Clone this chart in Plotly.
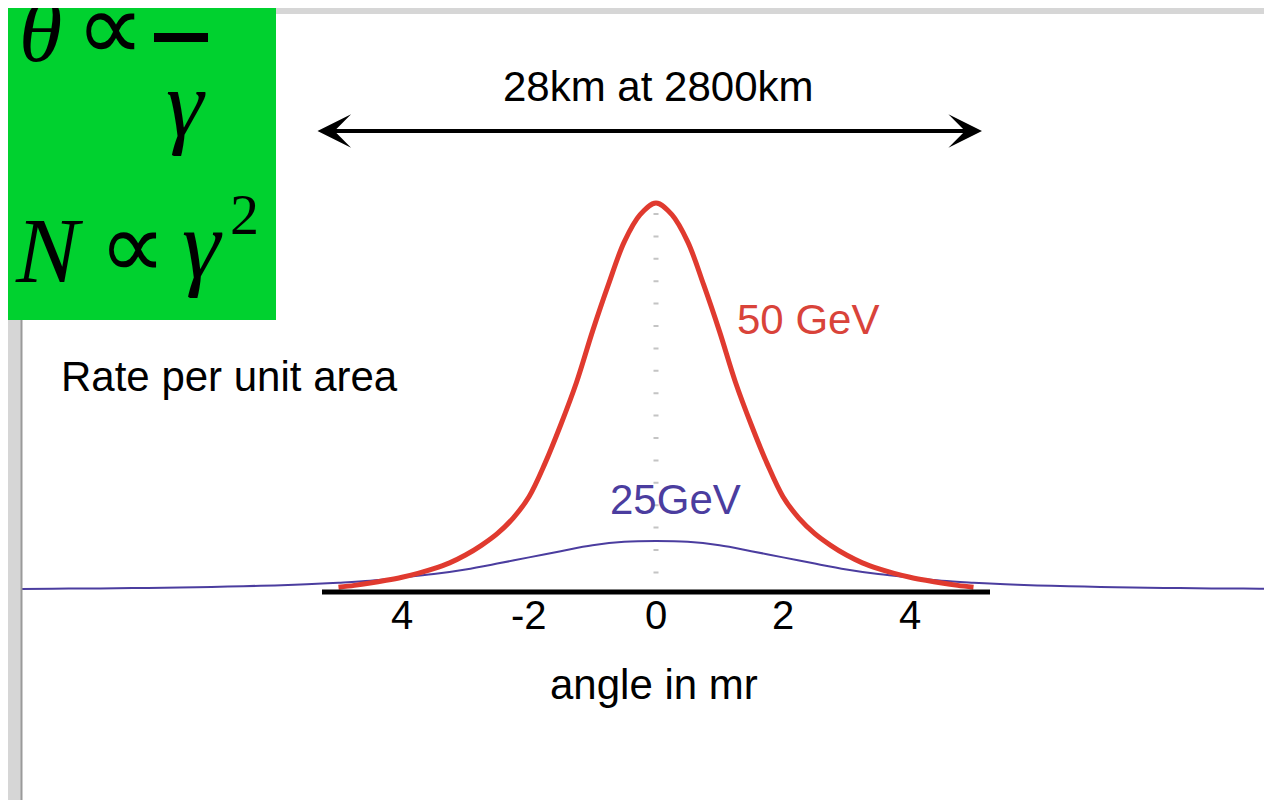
import plotly.graph_objects as go

# ---------------- data ----------------
red_angle = [-5.0, -4.75, -4.5, -4.25, -4.0, -3.75, -3.5, -3.25, -3.0, -2.75, -2.5, -2.25, -2.0,
             -1.75, -1.5, -1.25, -1.0, -0.75, -0.5, -0.25, 0.0, 0.25, 0.5, 0.75, 1.0, 1.25, 1.5,
             1.75, 2.0, 2.25, 2.5, 2.75, 3.0, 3.25, 3.5, 3.75, 4.0, 4.25, 4.5, 4.75, 5.0]
red_rate = [1.2, 1.7, 2.3, 3.0, 3.8, 4.8, 6.0, 7.5, 9.5, 12.0, 15.0, 19.0, 24.5,
            33.0, 43.0, 54.0, 67.0, 79.0, 90.0, 97.0, 100.0, 97.0, 90.0, 79.0, 67.0, 54.0, 43.0,
            33.0, 24.5, 19.0, 15.0, 12.0, 9.5, 7.5, 6.0, 4.8, 3.8, 3.0, 2.3, 1.7, 1.2]

blue_angle = [-10.0, -9.5, -9.0, -8.5, -8.0, -7.5, -7.0, -6.5, -6.0, -5.5, -5.0, -4.5, -4.0, -3.5,
              -3.0, -2.5, -2.0, -1.5, -1.0, -0.5, 0.0, 0.5, 1.0, 1.5, 2.0, 2.5, 3.0, 3.5, 4.0,
              4.5, 5.0, 5.5, 6.0, 6.5, 7.0, 7.5, 8.0, 8.5, 9.0, 9.5, 10.0]
blue_rate = [0.8, 0.85, 0.9, 0.95, 1.05, 1.15, 1.3, 1.5, 1.7, 2.0, 2.4, 2.9, 3.7, 4.6,
             5.8, 7.3, 8.9, 10.5, 12.0, 12.9, 13.1, 12.9, 12.0, 10.5, 8.9, 7.3, 5.8, 4.6, 3.7,
             2.9, 2.4, 2.0, 1.7, 1.5, 1.3, 1.15, 1.05, 0.95, 0.9, 0.85, 0.8]

tick_vals = [-4, -2, 0, 2, 4]
tick_text = ["4", "-2", "0", "2", "4"]

series_labels = ["50 GeV", "25GeV"]
axis_title = "angle in mr"
y_title = "Rate per unit area"
span_text = "28km at 2800km"

# ---------------- geometry helpers (page pixel -> coords) ----------------
OFF = 8                      # page body margin
W, H = 1272 - OFF, 800 - OFF
X0, XS = 656.0, 63.5
Y0, YS = 592.0, 3.89


def xd(px):
    return (px - X0) / XS


def yd(py):
    return (Y0 - py) / YS


def xp(px):
    return (px - OFF) / W


def yp(py):
    return 1 - (py - OFF) / H


RED = "#e03a2f"
RED_TXT = "#d9433a"
BLUE = "#4b3d9f"
SANS = "Liberation Sans, Arial, sans-serif"
SERIF = "Liberation Serif, Times New Roman, serif"

fig = go.Figure()

fig.add_trace(go.Scatter(x=blue_angle, y=blue_rate, mode="lines",
                         line=dict(color=BLUE, width=2, shape="spline"),
                         hoverinfo="skip", showlegend=False))
fig.add_trace(go.Scatter(x=red_angle, y=red_rate, mode="lines",
                         line=dict(color=RED, width=5, shape="spline"),
                         hoverinfo="skip", showlegend=False))

shapes = []
# dotted centre guide
shapes.append(dict(type="line", xref="x", yref="y", x0=0, x1=0, y0=yd(213), y1=yd(574),
                   line=dict(color="#c4c4c4", width=5, dash="2px,20.4px"), layer="below"))
# axis line
shapes.append(dict(type="line", xref="x", yref="y", x0=xd(322), x1=xd(990), y0=0, y1=0,
                   line=dict(color="black", width=5)))
# window borders
shapes.append(dict(type="rect", xref="paper", yref="paper", x0=0, x1=1, y0=yp(14), y1=1,
                   fillcolor="#d6d6d6", line=dict(width=0), layer="above"))
shapes.append(dict(type="rect", xref="paper", yref="paper", x0=0, x1=xp(21), y0=0, y1=1,
                   fillcolor="#d6d6d6", line=dict(width=0), layer="above"))
shapes.append(dict(type="line", xref="paper", yref="paper", x0=xp(21.5), x1=xp(21.5), y0=0, y1=yp(14),
                   line=dict(color="#9a9a9a", width=2), layer="above"))
# green box
shapes.append(dict(type="rect", xref="paper", yref="paper", x0=0, x1=xp(276), y0=yp(320), y1=1,
                   fillcolor="#00d12f", line=dict(width=0), layer="above"))
# fraction bar
shapes.append(dict(type="rect", xref="paper", yref="paper", x0=xp(154), x1=xp(208), y0=yp(42), y1=yp(33),
                   fillcolor="black", line=dict(width=0), layer="above"))

annotations = []


def txt(text, x, y, size, color="black", family=SANS, xanchor="center", xref="paper", yref="paper"):
    annotations.append(dict(text=text, x=x, y=y, xref=xref, yref=yref, showarrow=False,
                            xanchor=xanchor, yanchor="middle",
                            font=dict(family=family, size=size, color=color)))


# math in green box
txt("<i>θ</i>", xp(40), yp(32), 88, family=SERIF)
txt("∝", xp(110), yp(27), 96, family=SERIF)
txt("1", xp(183), yp(-25), 84, family=SERIF)
txt("<i>γ</i>", xp(186), yp(104), 95, family=SERIF)
txt("<i>N</i>", xp(49), yp(250), 94, family=SERIF)
txt("∝", xp(132), yp(246), 94, family=SERIF)
txt("<i>γ</i>", xp(202), yp(244), 97, family=SERIF)
txt("2", xp(244), yp(214), 58, family=SERIF)

# chart text
txt(span_text, xp(658), yp(87), 42)
txt(y_title, xp(59), yp(376), 42, xanchor="left")
txt(series_labels[0], xp(808), yp(319), 42, color=RED_TXT)
txt(series_labels[1], xp(675), yp(499), 42, color=BLUE)
txt(axis_title, xp(654), yp(684), 42)
for v, t in zip(tick_vals, tick_text):
    annotations.append(dict(text=t, x=v, y=yp(615), xref="x", yref="paper", showarrow=False,
                            xanchor="center", yanchor="middle",
                            font=dict(family=SANS, size=40, color="black")))

# double-headed arrow
annotations.append(dict(text="", x=xd(982), y=yd(131), ax=xd(316), ay=yd(131),
                        xref="x", yref="y", axref="x", ayref="y",
                        showarrow=True, arrowhead=3, startarrowhead=3, arrowside="end+start",
                        arrowwidth=4, arrowsize=1.4, startarrowsize=1.4,
                        arrowcolor="black", standoff=0, startstandoff=0))

fig.update_layout(
    width=W, height=H,
    margin=dict(l=0, r=0, t=0, b=0),
    paper_bgcolor="white", plot_bgcolor="white",
    xaxis=dict(range=[xd(OFF), xd(1272)], visible=False, fixedrange=True),
    yaxis=dict(range=[yd(800), yd(OFF)], visible=False, fixedrange=True),
    shapes=shapes, annotations=annotations, showlegend=False,
)

fig.write_html("out.html")
